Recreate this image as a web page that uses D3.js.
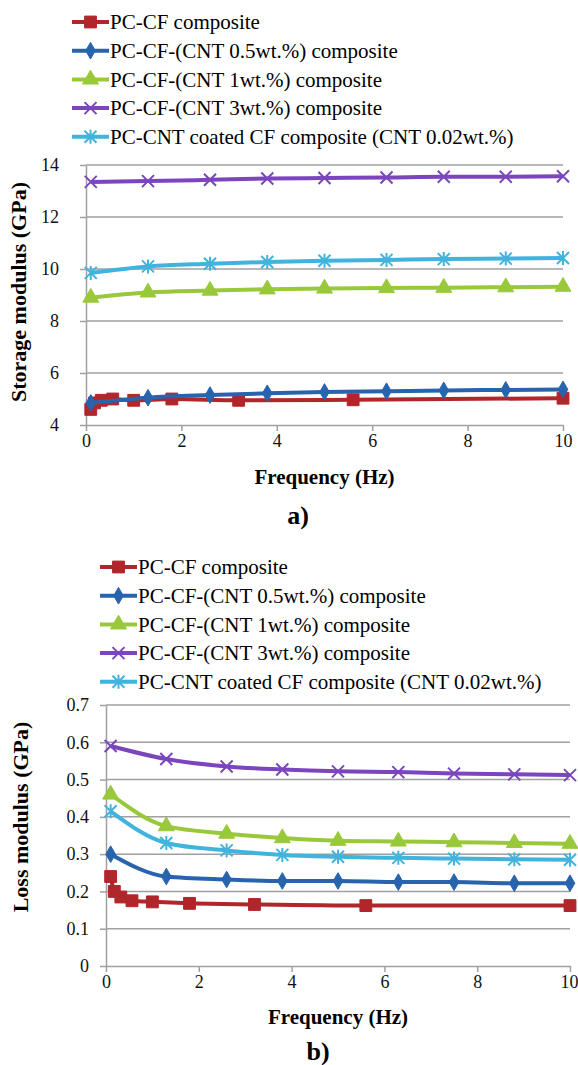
<!DOCTYPE html>
<html><head><meta charset="utf-8"><script src="https://cdn.jsdelivr.net/npm/d3@7"></script></head>
<body style="margin:0">
<script>
// frequency sweeps (Hz)
var freqRed = [0.1, 0.18, 0.32, 0.56, 1.0, 1.8, 3.2, 5.6, 10]
var freqOther = [0.1, 1.3, 2.6, 3.8, 5.0, 6.3, 7.5, 8.8, 10]

var seriesNames = [
  'PC-CF composite',
  'PC-CF-(CNT 0.5wt.%) composite',
  'PC-CF-(CNT 1wt.%) composite',
  'PC-CF-(CNT 3wt.%) composite',
  'PC-CNT coated CF composite (CNT 0.02wt.%)'
]
var seriesColors = ['#b1262b', '#2863ae', '#99c93a', '#7a45bd', '#40b4dc']
var seriesMarkers = ['square', 'diamond', 'triangle', 'cross', 'star']

// storage modulus (GPa)
var storageRed = [4.6, 4.85, 4.95, 5.0, 4.95, 5.0, 4.95, 4.97, 5.03]
var storageBlue = [4.85, 5.05, 5.15, 5.22, 5.27, 5.3, 5.33, 5.35, 5.37]
var storageGreen = [8.9, 9.1, 9.17, 9.22, 9.25, 9.27, 9.28, 9.3, 9.32]
var storagePurple = [13.35, 13.38, 13.43, 13.48, 13.5, 13.52, 13.55, 13.55, 13.57]
var storageCyan = [9.85, 10.1, 10.2, 10.27, 10.32, 10.35, 10.38, 10.4, 10.42]

// loss modulus (GPa)
var lossRed = [0.24, 0.2, 0.185, 0.175, 0.172, 0.168, 0.165, 0.162, 0.162]
var lossBlue = [0.3, 0.24, 0.232, 0.228, 0.228, 0.225, 0.225, 0.222, 0.222]
var lossGreen = [0.46, 0.375, 0.355, 0.343, 0.336, 0.334, 0.332, 0.33, 0.328]
var lossPurple = [0.59, 0.555, 0.535, 0.527, 0.522, 0.52, 0.516, 0.514, 0.512]
var lossCyan = [0.415, 0.33, 0.31, 0.298, 0.293, 0.29, 0.288, 0.286, 0.285]

var xTicks = [0, 2, 4, 6, 8, 10]
var storageTicks = [4, 6, 8, 10, 12, 14]
var lossTicks = [0, 0.1, 0.2, 0.3, 0.4, 0.5, 0.6, 0.7]

var GREY = '#a0a0a0'

var svg = d3.select('body').append('svg')
  .attr('width', 578)
  .attr('height', 1065)

function zip (xs, ys) {
  return ys.map(function (y, i) { return { x: xs[i], y: y } })
}

function setFont (sel, size, bold) {
  sel.style('font-family', "'Liberation Serif'")
    .style('font-size', size + 'px')
  if (bold) sel.style('font-weight', 'bold')
}

function markerPath (type) {
  if (type === 'square') return d3.symbol(d3.symbolSquare, 140)()
  if (type === 'diamond') return d3.symbol(d3.symbolDiamond, 80)()
  if (type === 'triangle') return d3.symbol(d3.symbolTriangle, 110)()
  if (type === 'cross') return 'M-6,-6L6,6M-6,6L6,-6'
  return 'M-6,-6L6,6M-6,6L6,-6M0,-7L0,7'
}

function drawMarker (g, type, color) {
  var open = type === 'cross' || type === 'star'
  g.append('path')
    .attr('d', markerPath(type))
    .attr('fill', open ? 'none' : color)
    .attr('stroke', color)
    .attr('stroke-width', open ? 2 : 1)
}

function styleAxis (g) {
  g.attr('font-family', null).attr('font-size', null)
  g.selectAll('path, line').attr('stroke', GREY).attr('stroke-width', 1.5)
  g.selectAll('.tick text').attr('fill', '#111')
}

function drawPanel (opt) {
  var root = svg.append('g')
  var x = d3.scaleLinear().domain([0, 10]).range([opt.left, opt.right])
  var y = d3.scaleLinear().domain(opt.yDomain).range([opt.bottom, opt.top])

  // 网格线
  root.append('g')
    .selectAll('line')
    .data(opt.yTicks.slice(1))
    .enter().append('line')
    .attr('x1', opt.left).attr('x2', opt.right)
    .attr('y1', function (d) { return y(d) })
    .attr('y2', function (d) { return y(d) })
    .attr('stroke', GREY)
    .attr('stroke-width', 1.5)

  // 横坐标
  var gx = root.append('g')
    .attr('transform', 'translate(0,' + opt.bottom + ')')
    .call(d3.axisBottom(x).tickValues(xTicks).tickSize(6).tickSizeOuter(0).tickFormat(d3.format('d')))
    .call(styleAxis)
  gx.selectAll('.tick text')
    .attr('y', 0)
    .attr('dy', opt.xTickDy)
    .call(setFont, 18)
  // 最后一个刻度靠右对齐，避免超出画布
  gx.selectAll('.tick text')
    .filter(function (d) { return opt.lastTickEnd && d === 10 })
    .attr('text-anchor', 'end')
    .attr('x', 578 - opt.right)

  // 纵坐标
  var gy = root.append('g')
    .attr('transform', 'translate(' + opt.left + ',0)')
    .call(d3.axisLeft(y).tickValues(opt.yTicks).tickSize(6).tickSizeOuter(0).tickFormat(opt.yFormat))
    .call(styleAxis)
  gy.selectAll('.tick text').attr('x', -opt.yTickGap).call(setFont, 18)

  root.append('text')
    .attr('transform', 'translate(' + opt.yTitleX + ',' + opt.yTitleY + ') rotate(-90)')
    .attr('text-anchor', 'middle')
    .attr('dy', '0.35em')
    .text(opt.yTitle)
    .call(setFont, 22, true)

  root.append('text')
    .attr('x', (opt.left + opt.right) / 2)
    .attr('y', opt.xTitleY)
    .attr('text-anchor', 'middle')
    .attr('dy', '0.35em')
    .text('Frequency (Hz)')
    .call(setFont, 21, true)

  root.append('text')
    .attr('x', opt.labelX)
    .attr('y', opt.labelY)
    .attr('text-anchor', 'middle')
    .attr('dy', '0.35em')
    .text(opt.label)
    .call(setFont, 26, true)

  // 折线图
  var line = d3.line()
    .x(function (d) { return x(d.x) })
    .y(function (d) { return y(d.y) })
    .curve(d3.curveMonotoneX)

  opt.series.forEach(function (s, i) {
    var pts = zip(i === 0 ? freqRed : freqOther, s)
    var g = root.append('g')
    g.append('path')
      .datum(pts)
      .attr('d', line)
      .attr('fill', 'none')
      .attr('stroke', seriesColors[i])
      .attr('stroke-width', 4)
    g.selectAll('.pt')
      .data(pts)
      .enter().append('g')
      .attr('transform', function (d) { return 'translate(' + x(d.x) + ',' + y(d.y) + ')' })
      .each(function () { drawMarker(d3.select(this), seriesMarkers[i], seriesColors[i]) })
  })

  // 图例
  var legend = root.append('g')
  seriesNames.forEach(function (name, i) {
    var item = legend.append('g')
      .attr('transform', 'translate(' + opt.legendX + ',' + (opt.legendY + i * opt.legendStep) + ')')
    item.append('line')
      .attr('x1', 0).attr('x2', 37)
      .attr('stroke', seriesColors[i])
      .attr('stroke-width', 4)
    drawMarker(item.append('g').attr('transform', 'translate(18.5,0)'), seriesMarkers[i], seriesColors[i])
    item.append('text')
      .attr('x', 38)
      .attr('dy', '0.35em')
      .text(name)
      .call(setFont, 21)
  })
}

drawPanel({
  left: 86, right: 563, top: 165, bottom: 425,
  yDomain: [4, 14], yTicks: storageTicks, yFormat: d3.format('d'), yTickGap: 27,
  xTickDy: 22, xTitleY: 477,
  yTitle: 'Storage modulus (GPa)', yTitleX: 18, yTitleY: 292,
  label: 'a)', labelX: 298, labelY: 515,
  legendX: 72, legendY: 22, legendStep: 28.7,
  series: [storageRed, storageBlue, storageGreen, storagePurple, storageCyan]
})

drawPanel({
  left: 106, right: 570, top: 705, bottom: 966,
  yDomain: [0, 0.7], yTicks: lossTicks, yTickGap: 17,
  yFormat: function (d) { return d === 0 ? '0' : d3.format('.1f')(d) },
  xTickDy: 22, xTitleY: 1017, lastTickEnd: true,
  yTitle: 'Loss modulus (GPa)', yTitleX: 20, yTitleY: 817,
  label: 'b)', labelX: 318, labelY: 1051,
  legendX: 100, legendY: 567, legendStep: 28.7,
  series: [lossRed, lossBlue, lossGreen, lossPurple, lossCyan]
})
</script>
</body>
</html>
